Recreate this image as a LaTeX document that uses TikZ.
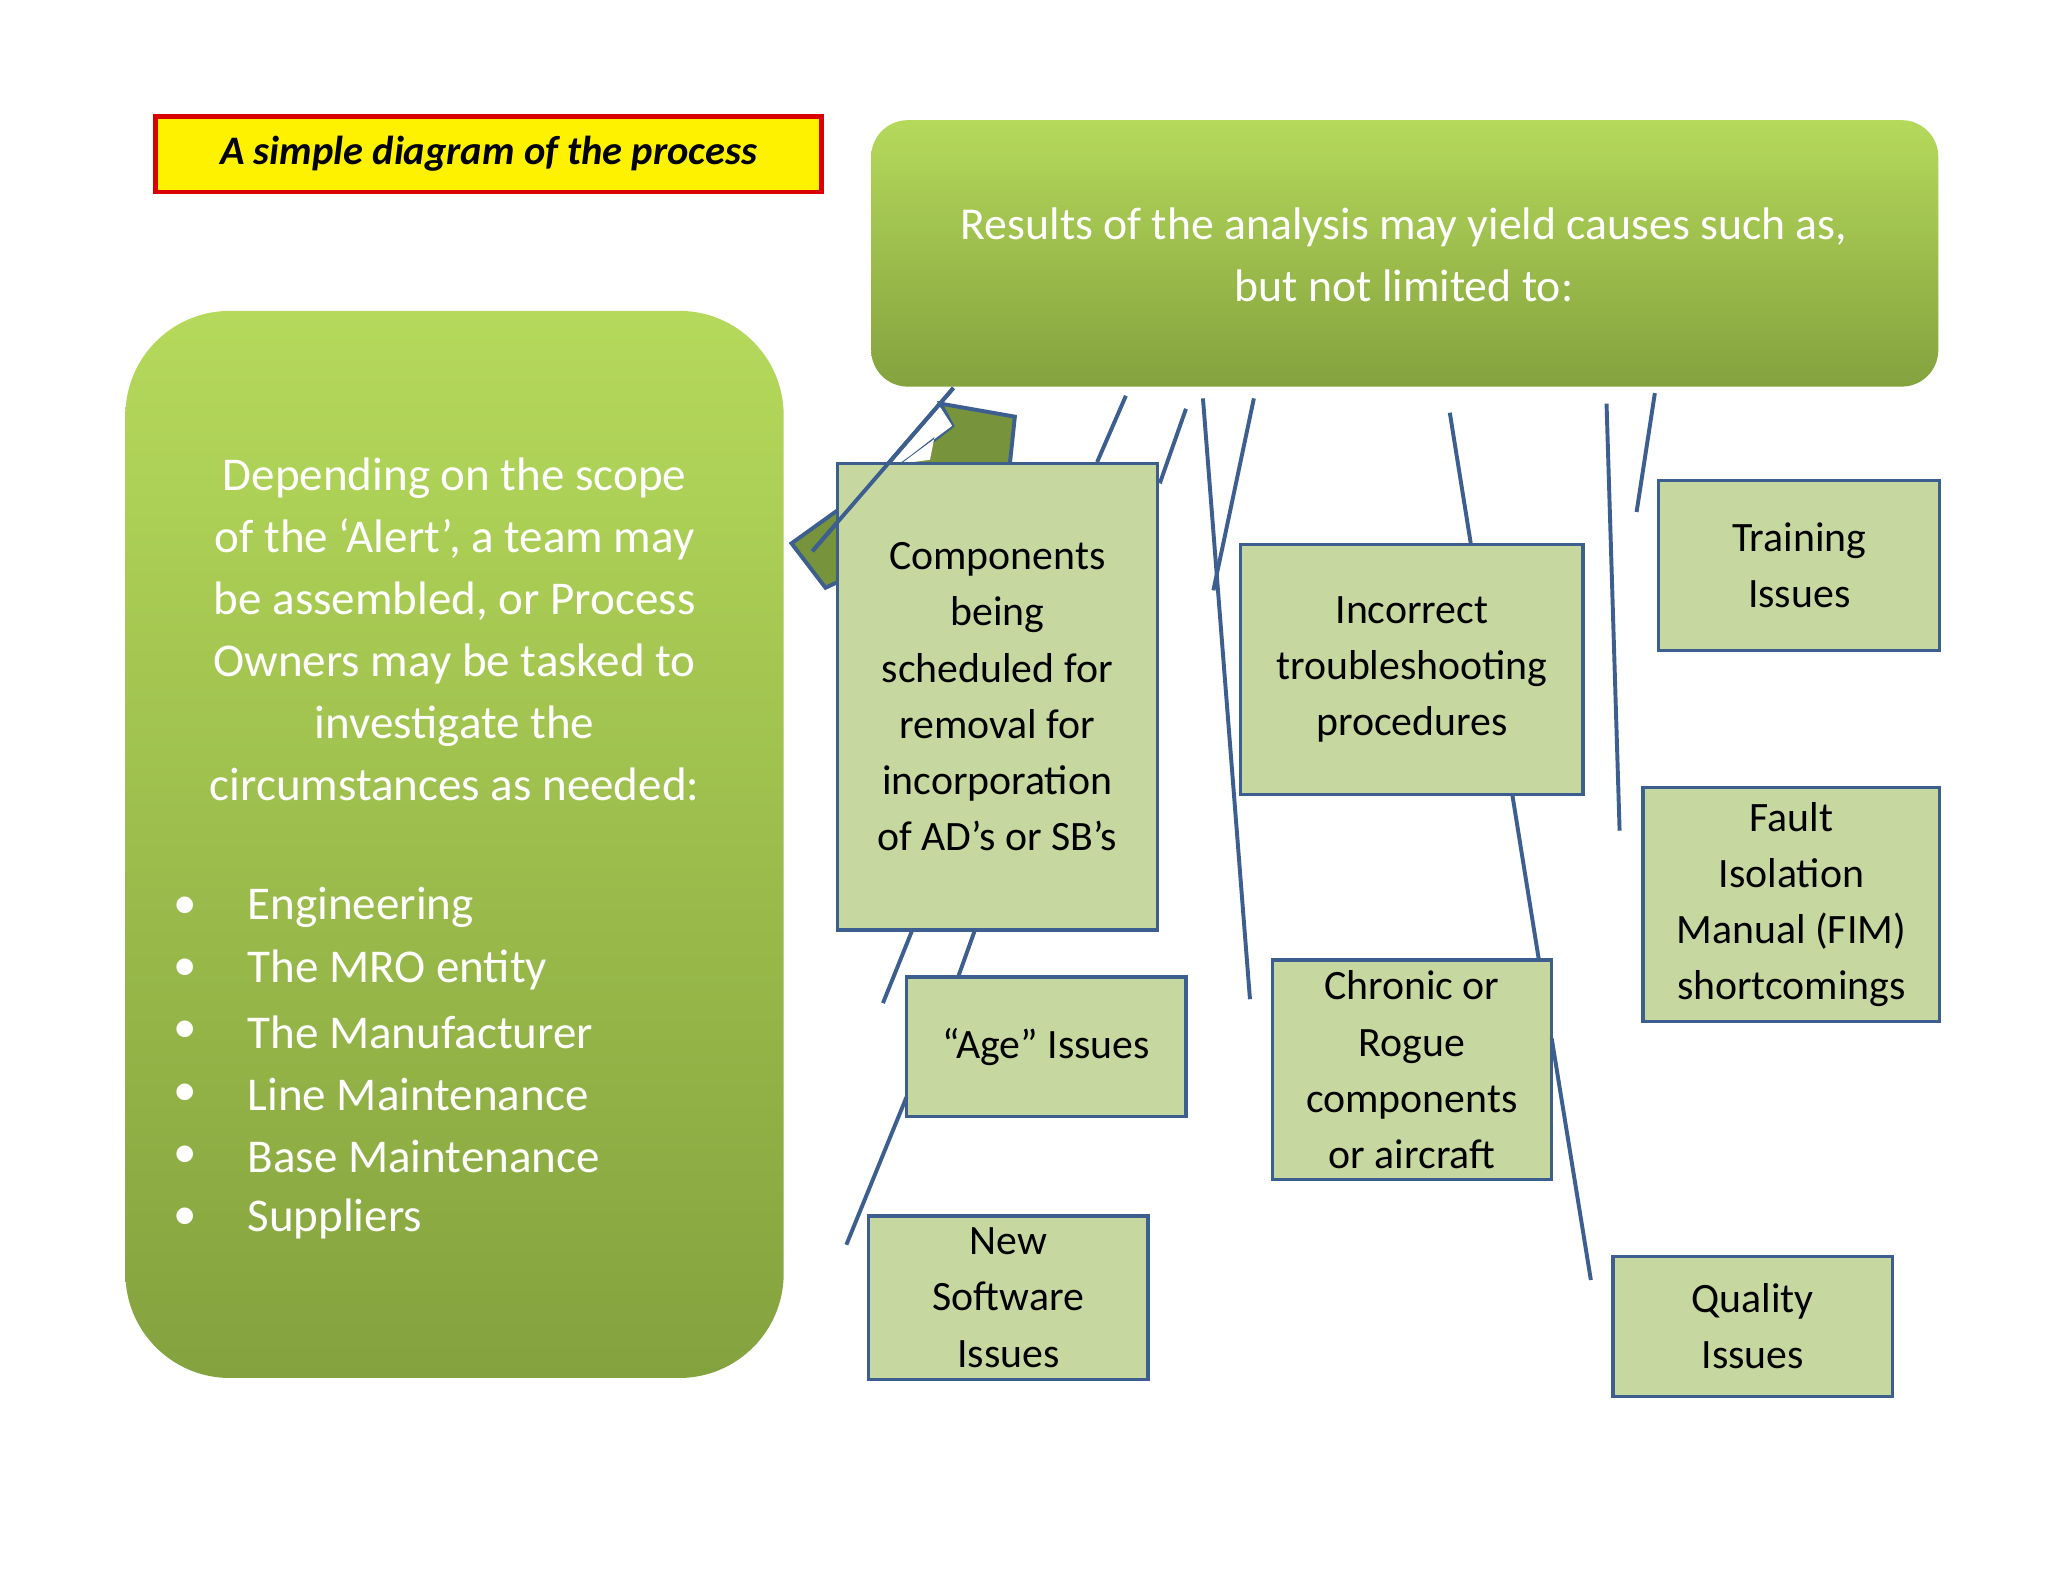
\documentclass[tikz,border=0pt]{standalone}
\usepackage{fontspec}
\setmainfont{Carlito}
\begin{document}
\begin{tikzpicture}[x=1pt,y=-1pt,
  gbox/.style={draw=none,top color=gtop,bottom color=gbot,rounded corners=#1},
  cbox/.style={draw=lblue,line width=2.5pt,fill=lgreen,align=center,inner sep=0pt,text=black,font=\fontsize{32}{43}\selectfont},
  ln/.style={draw=lblue,line width=3pt}]
\definecolor{gtop}{HTML}{B5D95B}
\definecolor{gbot}{HTML}{84A23E}
\definecolor{lgreen}{HTML}{C6D8A0}
\definecolor{lblue}{HTML}{3C5F8F}
\definecolor{olive}{HTML}{77933C}
\useasboundingbox (0,0) rectangle (1568,1211);
\fill[white] (0,0) rectangle (1568,1211);
% title
\node[draw=red!85!black,line width=3.5pt,fill=yellow,minimum width=510pt,minimum height=58pt,font=\fontsize{31}{36}\selectfont\bfseries\itshape] (title) at (374,118) {A simple diagram of the process};
% top box
\shade[gbox=28pt] (667,92) rectangle (1484,296);
\node[text=white,align=center,font=\fontsize{35}{47}\selectfont] (top) at (1075,195) {Results of the analysis may yield causes such as,\\but not limited to:};
% left box
\shade[gbox=80pt] (96,238) rectangle (600,1055);
\node[text=white,align=center,font=\fontsize{36}{47.5}\selectfont] (dep) at (348,482) {Depending on the scope\\of the ‘Alert’, a team may\\be assembled, or Process\\Owners may be tasked to\\investigate the\\circumstances as needed:};
\foreach \t [count=\i] in {Engineering,The MRO entity,The Manufacturer,Line Maintenance,Base Maintenance,Suppliers}{
  \node[text=white,font=\fontsize{36}{40}\selectfont] (b\i) at (142,{695+47.6*(\i-1)}) {•};
  \node[text=white,anchor=west,font=\fontsize{36}{40}\selectfont] (l\i) at (186,{695+47.6*(\i-1)}) {\t};
}
% arrow shape
\draw[lblue,line width=3pt,fill=olive,line join=miter] (720,309) -- (777,319) -- (770,385) -- (632,450) -- (606,416) -- (698,350) -- (729,326) -- cycle;
\fill[white] (720,312) -- (729,326) -- (690,355) -- (712,352) -- cycle;
% lines
\coordinate (a1) at (730,297); \coordinate (a2) at (622,422);
\draw[ln] (a1) -- (a2);
% boxes
\node[cbox,minimum width=245pt,minimum height=357pt] (comp) at (763.5,533.5) {Components\\being\\scheduled for\\removal for\\incorporation\\of AD’s or SB’s};
\draw[ln] (730,297) -- (622,422);
\node[cbox,minimum width=262pt,minimum height=191pt] (inc) at (1081,512.5) {Incorrect\\troubleshooting\\procedures};
\node[cbox,minimum width=215pt,minimum height=130pt] (train) at (1377.5,433) {Training\\Issues};
\node[cbox,minimum width=227pt,minimum height=179pt] (fim) at (1371.5,692.5) {Fault\\Isolation\\Manual (FIM)\\shortcomings};
\node[cbox,minimum width=214pt,minimum height=107pt] (age) at (801,801.5) {“Age” Issues};
\node[cbox,minimum width=214pt,minimum height=168pt] (chr) at (1081,819) {Chronic or\\Rogue\\components\\or aircraft};
\node[cbox,minimum width=214pt,minimum height=125pt] (soft) at (772,993.5) {New\\Software\\Issues};
\node[cbox,minimum width=214pt,minimum height=107pt] (qual) at (1342,1015.5) {Quality\\Issues};
% connectors
\draw[ln] (862,303) -- (comp.north -| 840,0);
\draw[ln] (908,313) -- (888,370);
\draw[ln] (921,305) -- (957,765);
\draw[ln] (960,305) -- (929,452);
\draw[ln] (1110,316) -- (inc.north -| 1126,0);
\draw[ln] (1230,309) -- (1240,636);
\draw[ln] (1267,301) -- (1253,392);
\draw[ln] (inc.south -| 1158,0) -- (chr.north -| 1178,0);
\draw[ln] (1188,795) -- (1218,980);
\draw[ln] (comp.south -| 698,0) -- (676,768);
\draw[ln] (comp.south -| 746,0) -- (age.north -| 734,0);
\draw[ln] (694,840) -- (648,953);
\end{tikzpicture}
\end{document}
